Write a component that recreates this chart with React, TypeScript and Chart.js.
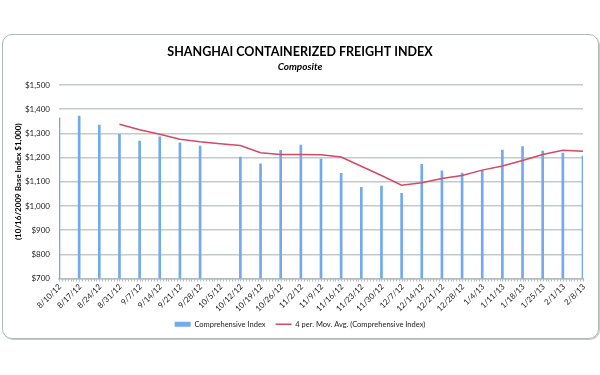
import React, { useEffect, useRef } from "react";
import { Chart, registerables } from "chart.js";

Chart.register(...registerables);

const categories = [
  "8/10/12", "8/17/12", "8/24/12", "8/31/12", "9/7/12", "9/14/12", "9/21/12", "9/28/12",
  "10/5/12", "10/12/12", "10/19/12", "10/26/12", "11/2/12", "11/9/12", "11/16/12", "11/23/12",
  "11/30/12", "12/7/12", "12/14/12", "12/21/12", "12/28/12", "1/4/13", "1/11/13", "1/18/13",
  "1/25/13", "2/1/13", "2/8/13",
];

const comprehensiveIndex: (number | null)[] = [
  1364, 1372, 1334, 1296, 1268, 1286, 1261, 1247,
  null, 1202, 1174, 1230, 1252, 1194, 1135, 1077,
  1082, 1052, 1172, 1145, 1136, 1147, 1231, 1245,
  1227, 1219, 1206,
];

const movingAverage: (number | null)[] = [
  null, null, null, 1338, 1315, 1296, 1276, 1265,
  1257, 1250, 1220, 1213, 1213, 1212, 1202, 1164,
  1126, 1086, 1096, 1113, 1126, 1148, 1165, 1188,
  1213, 1230, 1226,
];

const yTicks = [700, 800, 900, 1000, 1100, 1200, 1300, 1400, 1500];

const FONT = "Lato, 'Open Sans', sans-serif";
const BAR_COLOR = "#72a9ef";
const LINE_COLOR = "#d24a64";

const axisDecor = {
  id: "axisDecor",
  beforeDatasetsDraw(chart: any) {
    const xs = chart.scales.x;
    const ctx = chart.ctx;
    const y0 = chart.chartArea.bottom;
    ctx.save();
    ctx.strokeStyle = "#b4bcbc";
    ctx.lineWidth = 1;
    ctx.beginPath();
    for (let i = 0; i < categories.length - 1; i++) {
      const a = xs.getPixelForValue(i);
      const b = xs.getPixelForValue(i + 1);
      for (let j = 0; j < 7; j++) {
        const px = Math.round(a + ((b - a) * j) / 7) + 0.5;
        ctx.moveTo(px, y0);
        ctx.lineTo(px, y0 + 3);
      }
    }
    const last = Math.round(xs.getPixelForValue(categories.length - 1)) + 0.5;
    ctx.moveTo(last, y0);
    ctx.lineTo(last, y0 + 3);
    ctx.stroke();
    ctx.restore();
  },
  afterDraw(chart: any) {
    const xs = chart.scales.x;
    const ctx = chart.ctx;
    const y0 = chart.chartArea.bottom;
    ctx.save();
    ctx.fillStyle = "#222";
    ctx.font = "8px " + FONT;
    ctx.textAlign = "right";
    ctx.textBaseline = "middle";
    categories.forEach((lab, i) => {
      const px = xs.getPixelForValue(i);
      ctx.save();
      ctx.translate(px + 1, y0 + 7);
      ctx.rotate(-Math.PI / 4);
      ctx.fillText(lab, 0, 0);
      ctx.restore();
    });
    ctx.restore();
  },
};

export default function App() {
  const ref = useRef<HTMLCanvasElement | null>(null);

  useEffect(() => {
    if (!ref.current) return;
    const chart = new Chart(ref.current, {
      type: "bar",
      data: {
        labels: categories,
        datasets: [
          {
            type: "bar",
            label: "Comprehensive Index",
            data: comprehensiveIndex,
            backgroundColor: BAR_COLOR,
            borderWidth: 0,
            barThickness: 2,
            order: 2,
          },
          {
            type: "line",
            label: "4 per. Mov. Avg. (Comprehensive Index)",
            data: movingAverage,
            borderColor: LINE_COLOR,
            backgroundColor: LINE_COLOR,
            borderWidth: 1.5,
            pointRadius: 0,
            tension: 0,
            spanGaps: true,
            order: 1,
          } as any,
        ],
      },
      options: {
        animation: false,
        responsive: false,
        maintainAspectRatio: false,
        layout: { padding: { left: 17, right: 17, top: 0, bottom: 37 } },
        plugins: {
          title: {
            display: true,
            text: "SHANGHAI CONTAINERIZED FREIGHT INDEX",
            color: "#000",
            font: { family: FONT, size: 12.5, weight: "bold" },
            padding: { top: 44, bottom: 0 },
          },
          subtitle: {
            display: true,
            text: "Composite",
            color: "#000",
            font: { family: FONT, size: 10, weight: "bold", style: "italic" },
            padding: { top: 2, bottom: 12 },
          },
          legend: {
            position: "bottom",
            labels: {
              color: "#222",
              font: { family: FONT, size: 7.5 },
              usePointStyle: true,
              pointStyleWidth: 16,
              boxHeight: 5,
              padding: 10,
              sort: (a: any, b: any) => a.datasetIndex - b.datasetIndex,
              generateLabels: (c: any) => {
                const items = Chart.defaults.plugins.legend.labels.generateLabels(c);
                items.forEach((it: any) => {
                  if (it.datasetIndex === 0) {
                    it.pointStyle = "rect";
                    it.fillStyle = BAR_COLOR;
                    it.strokeStyle = BAR_COLOR;
                    it.lineWidth = 0;
                  } else {
                    it.pointStyle = "line";
                    it.strokeStyle = LINE_COLOR;
                    it.lineWidth = 1.5;
                  }
                });
                return items;
              },
            },
          },
          tooltip: { enabled: false },
        },
        scales: {
          x: {
            type: "category",
            offset: false,
            grid: { display: false },
            border: { display: true, color: "#b4bcbc", width: 1.5 },
            ticks: { display: false },
            afterFit: (s: any) => {
              s.height = 32;
            },
          },
          y: {
            min: 700,
            max: 1500,
            afterBuildTicks: (s: any) => {
              s.ticks = yTicks.map((v) => ({ value: v }));
            },
            grid: { color: "#c2caca", lineWidth: 1.5, drawTicks: false },
            border: { display: false },
            ticks: {
              color: "#222",
              font: { family: FONT, size: 8 },
              padding: 9,
              callback: (v: any) => "$" + Number(v).toLocaleString("en-US"),
            },
            title: {
              display: true,
              text: "(10/16/2009 Base Index $1,000)",
              color: "#000",
              font: { family: FONT, size: 8, weight: "bold" },
              padding: { top: -3, bottom: 0 },
            },
            afterFit: (s: any) => {
              s.width = 42;
            },
          },
        },
      } as any,
      plugins: [axisDecor],
    });
    return () => chart.destroy();
  }, []);

  return (
    <div style={{ position: "absolute", left: 0, top: 0, width: 600, height: 375, background: "#fff" }}>
      <div
        style={{
          position: "absolute",
          left: 2,
          top: 34,
          width: 595,
          height: 303,
          border: "1px solid #b0b8b8",
          borderRadius: 10,
          boxShadow: "1px 1px 0 #c4caca",
        }}
      />
      <canvas ref={ref} width={600} height={375} style={{ position: "absolute", left: 0, top: 0 }} />
    </div>
  );
}
